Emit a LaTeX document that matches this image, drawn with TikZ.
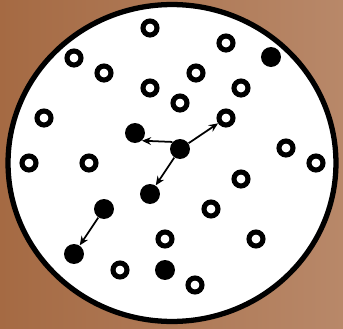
\documentclass[tikz,border=0pt]{standalone}
\usetikzlibrary{arrows.meta}
\definecolor{bgleft}{RGB}{165,106,67}
\definecolor{bgright}{RGB}{184,136,105}

\begin{document}
\begin{tikzpicture}[
  x=0.02cm, y=-0.02cm,
  hole/.style={circle, draw=black, fill=white, line width=2.9pt, minimum size=0.28cm, inner sep=0pt},
  dot/.style={circle, fill=black, minimum size=0.4cm, inner sep=0pt},
  move/.style={->, line width=1pt},
  >={Stealth[length=5.2pt,width=4.4pt]}
]

% BACKGROUND
\shade[left color=bgleft, right color=bgright] (0,0) rectangle (343,329);
\useasboundingbox (0,0) rectangle (343,329);

% DISH
\draw[fill=white, line width=3pt] (172,163) ellipse [x radius=3.28cm, y radius=3.17cm];

% EMPTY SITES
\foreach \x/\y [count=\i] in {150/28, 226/43, 74/58, 104/73, 196/73, 150/88, 241/88,
    180/103, 44/118, 226/118, 286/148, 29/163, 89/163, 316/163, 241/179,
    211/209, 165/239, 256/239, 120/270, 195/285}{
  \node[hole] (r\i) at (\x,\y) {};
}

% PARTICLES
\foreach \x/\y [count=\i] in {271/57, 135/133, 180/149, 150/194, 104/209, 74/254, 165/270}{
  \node[dot] (p\i) at (\x,\y) {};
}

% MOVES
\draw[move] (p3.137) -- (p2.-48);
\draw[move] (p3) -- (r10);
\draw[move] (p3) -- (p4);
\draw[move] (p5) -- (p6);

\end{tikzpicture}
\end{document}
